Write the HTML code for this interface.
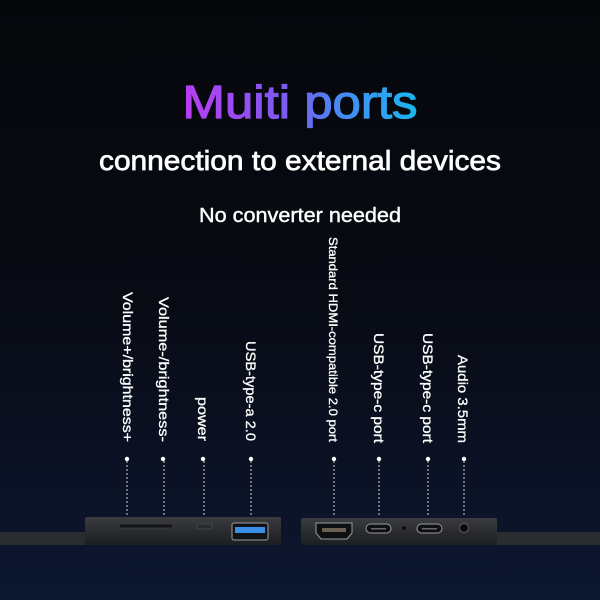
<!DOCTYPE html>
<html><head><meta charset="utf-8"><style>
html,body{margin:0;padding:0;width:600px;height:600px;overflow:hidden;background:#07080d}
</style></head><body>
<svg width="600" height="600" xmlns="http://www.w3.org/2000/svg" font-family="Liberation Sans, DejaVu Sans, sans-serif">
<defs>
<linearGradient id="bg" x1="0" y1="0" x2="0" y2="1">
<stop offset="0" stop-color="#06070b"/><stop offset="0.5" stop-color="#080b14"/><stop offset="1" stop-color="#0d1731"/>
</linearGradient>
<linearGradient id="tg" x1="183" y1="0" x2="418" y2="0" gradientUnits="userSpaceOnUse">
<stop offset="0" stop-color="#b83cf2"/><stop offset="0.45" stop-color="#7a5cf0"/><stop offset="0.65" stop-color="#4a86f2"/><stop offset="1" stop-color="#18b8f2"/>
</linearGradient>
<linearGradient id="dev" x1="0" y1="0" x2="0" y2="1">
<stop offset="0" stop-color="#3a3c40"/><stop offset="0.5" stop-color="#2a2c30"/><stop offset="1" stop-color="#1c1e22"/>
</linearGradient>
</defs>
<rect width="600" height="600" fill="url(#bg)"/>
<text x="300" y="118" text-anchor="middle" font-size="46" fill="url(#tg)" stroke="url(#tg)" stroke-width="1.2" textLength="235" lengthAdjust="spacingAndGlyphs">Muiti ports</text>
<text x="300" y="170" text-anchor="middle" font-size="28" fill="#fff" stroke="#fff" stroke-width="0.7" textLength="402" lengthAdjust="spacingAndGlyphs">connection to external devices</text>
<text x="300" y="222" text-anchor="middle" font-size="20" fill="#fff" stroke="#fff" stroke-width="0.4" textLength="202" lengthAdjust="spacingAndGlyphs">No converter needed</text>
<g fill="#fff" font-size="14" stroke="#fff" stroke-width="0.3">
<text transform="translate(123,292) rotate(90)" textLength="150" lengthAdjust="spacingAndGlyphs">Volume+/brightness+</text>
<text transform="translate(159,297) rotate(90)" textLength="145" lengthAdjust="spacingAndGlyphs">Volume-/brightness-</text>
<text transform="translate(198,397) rotate(90)" textLength="44" lengthAdjust="spacingAndGlyphs">power</text>
<text transform="translate(246,341) rotate(90)" textLength="100" lengthAdjust="spacingAndGlyphs">USB-type-a 2.0</text>
<text transform="translate(329,237) rotate(90)" font-size="12" textLength="205" lengthAdjust="spacingAndGlyphs">Standard HDMI-compatible 2.0 port</text>
<text transform="translate(374,333) rotate(90)" textLength="110" lengthAdjust="spacingAndGlyphs">USB-type-c port</text>
<text transform="translate(423,333) rotate(90)" textLength="110" lengthAdjust="spacingAndGlyphs">USB-type-c port</text>
<text transform="translate(458,355) rotate(90)" textLength="88" lengthAdjust="spacingAndGlyphs">Audio 3.5mm</text>
</g>
<g fill="#fff" stroke="#cfd3da" stroke-width="1" stroke-dasharray="2,2">
<circle cx="127" cy="459" r="2.2" stroke="none"/><line x1="127" y1="461" x2="127" y2="516"/>
<circle cx="163" cy="459" r="2.2" stroke="none"/><line x1="164" y1="461" x2="164" y2="516"/>
<circle cx="203" cy="459" r="2.2" stroke="none"/><line x1="204" y1="461" x2="204" y2="516"/>
<circle cx="251" cy="459" r="2.2" stroke="none"/><line x1="251" y1="461" x2="251" y2="516"/>
<circle cx="334" cy="459" r="2.2" stroke="none"/><line x1="334" y1="461" x2="334" y2="516"/>
<circle cx="379" cy="459" r="2.2" stroke="none"/><line x1="379" y1="461" x2="379" y2="516"/>
<circle cx="428" cy="459" r="2.2" stroke="none"/><line x1="428" y1="461" x2="428" y2="516"/>
<circle cx="464" cy="459" r="2.2" stroke="none"/><line x1="464" y1="461" x2="464" y2="516"/>
</g>
<rect x="0" y="532" width="90" height="13" fill="#2a2c30"/>
<rect x="490" y="532" width="110" height="13" fill="#2a2c30"/>
<rect x="85" y="517" width="196" height="28" rx="2" fill="url(#dev)"/>
<rect x="301" y="518" width="196" height="27" rx="2" fill="url(#dev)"/>
<rect x="119" y="524" width="54" height="4" rx="2" fill="#15161a" stroke="#4a4c50" stroke-width="0.6"/>
<rect x="197" y="524" width="15" height="5" rx="1.5" fill="#2a2b2f" stroke="#55575b" stroke-width="0.6"/>
<rect x="232" y="523" width="36" height="17" rx="2" fill="#121316" stroke="#9a9ca0" stroke-width="1"/>
<rect x="235" y="527" width="30" height="6" fill="#3a8ee8"/>
<path d="M316 523 H352 V533 L347 539 H321 L316 533 Z" fill="#0e0f11" stroke="#9a9ca0" stroke-width="1"/>
<rect x="322" y="528" width="24" height="4" fill="#6a6050"/>
<rect x="366" y="524" width="25" height="9" rx="4.5" fill="#0e0f11" stroke="#9a9ca0" stroke-width="1"/>
<rect x="371" y="528" width="15" height="1.5" fill="#666"/>
<circle cx="404" cy="528" r="1.8" fill="#0a0a0b"/>
<rect x="417" y="524" width="25" height="9" rx="4.5" fill="#0e0f11" stroke="#9a9ca0" stroke-width="1"/>
<rect x="422" y="528" width="15" height="1.5" fill="#666"/>
<circle cx="464" cy="528" r="4.5" fill="#0a0a0b" stroke="#666" stroke-width="1"/>
</svg>
</body></html>
